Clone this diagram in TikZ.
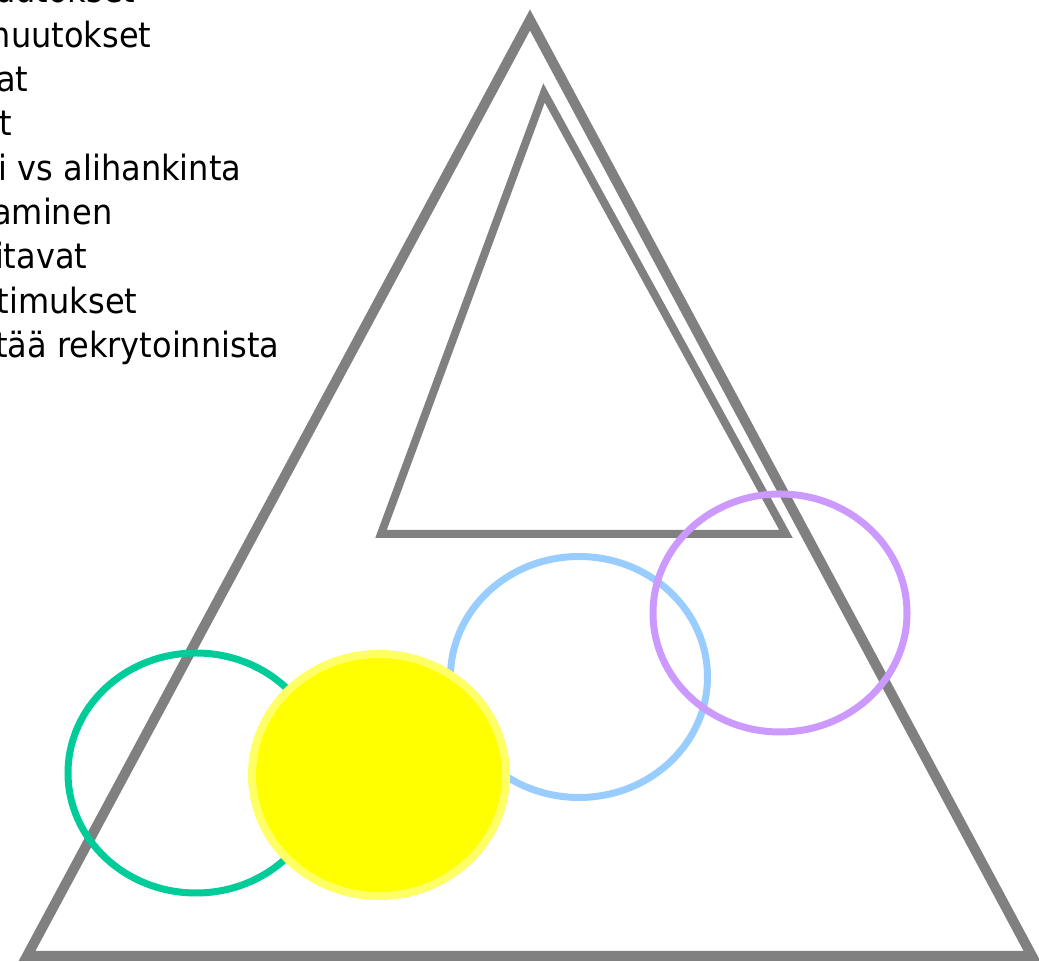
\documentclass[tikz,border=0pt]{standalone}
\usepackage{fontspec}
\usepackage{tikz}
\newfontfamily\listfont{DejaVu Sans}[FakeStretch=0.92]

\definecolor{triGray}{HTML}{808080}
\definecolor{ringGreen}{HTML}{00CC99}
\definecolor{ringBlue}{HTML}{99CCFF}
\definecolor{ringPurple}{HTML}{CC99FF}
\definecolor{sunYellow}{HTML}{FFFF00}
\definecolor{sunRim}{HTML}{FFFF66}

\tikzset{
  listline/.style={anchor=base east, inner sep=0pt, font=\listfont\fontsize{9.9pt}{12.6pt}\selectfont},
  ring/.style={line width=0.7mm}
}

\begin{document}
\begin{tikzpicture}[x=0.01cm, y=-0.01cm, line join=miter]
      \useasboundingbox (0,0) rectangle (1039,962);
      \clip (0,0) rectangle (1039,962);
      \def\gap{44.3}

      % Outer triangle
      \coordinate (A) at (530,20);
      \coordinate (B) at (27,956);
      \coordinate (C) at (1032,956);
      % Inner triangle
      \coordinate (D) at (544,93);
      \coordinate (E) at (381,534);
      \coordinate (F) at (786,534);

      \draw[triGray, line width=1mm] (A)--(B)--(C)--cycle;
      \draw[triGray, line width=0.8mm] (D)--(E)--(F)--cycle;

      % Ring centres
      \coordinate (G) at (196,773);
      \coordinate (Bl) at (579,677);
      \coordinate (P) at (780,613);
      \coordinate (Y) at (379,775);

      \draw[ring, ringGreen] (G) ellipse (128 and 120);
      \draw[ring, ringBlue] (Bl) ellipse (128.5 and 120.5);
      \draw[ring, ringPurple] (P) ellipse (127 and 119);
      \fill[sunYellow, draw=sunRim, line width=0.8mm] (Y) ellipse (127 and 121);

      % Text list, cut at the left edge
      \foreach \txt/\xe [count=\i] in {uutokset/136, muutokset/152, at/29, t/13,
          i vs alihankinta/242, aminen/113, itavat/88, timukset/138,
          tää rekrytoinnista/280}
        \node[listline] (line\i) at (\xe, {3 + \gap*(\i-1)}) {\txt};

    \end{tikzpicture}
\end{document}
